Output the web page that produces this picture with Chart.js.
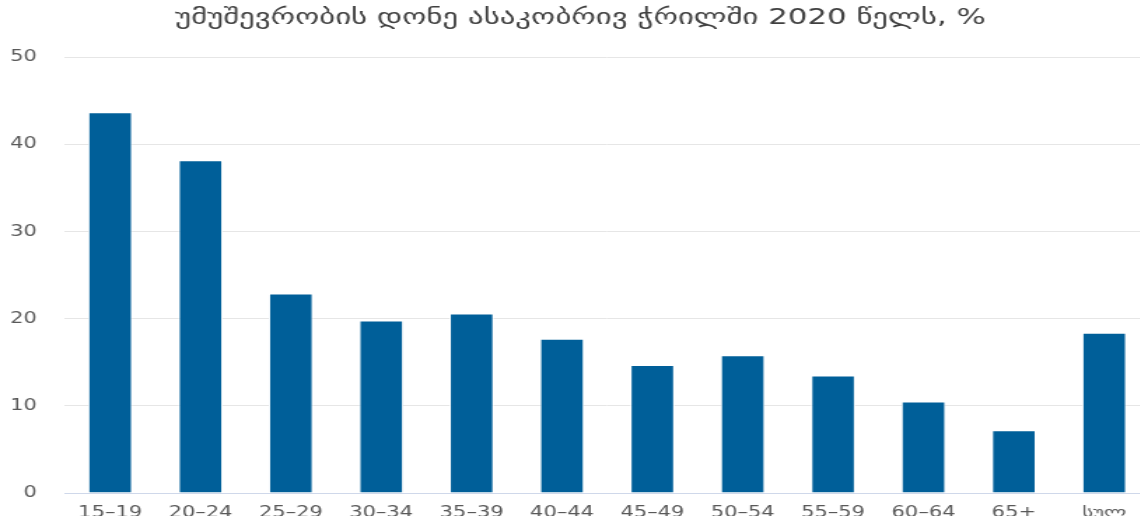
<!DOCTYPE html>
<html>
<head>
<meta charset="utf-8">
<script src="https://cdn.jsdelivr.net/npm/chart.js@4/dist/chart.umd.min.js"></script>
<style>
    html, body { margin: 0; padding: 0; background: #fff; overflow: hidden; }
    /* the chart is laid out narrow and stretched wide, text included */
    #ageChart { display: block; transform: scaleX(1.4); transform-origin: 0 0; }
</style>
</head>
<body>
<canvas id="ageChart" width="821" height="522"></canvas>
<script>
const TITLE = 'უმუშევრობის დონე ასაკობრივ ჭრილში 2020 წელს, %';
const AGE_GROUPS = ['15–19', '20–24', '25–29', '30–34', '35–39', '40–44', '45–49', '50–54', '55–59', '60–64', '65+', 'სულ'];
const RATES = [43.7, 38.2, 22.9, 19.8, 20.6, 17.7, 14.7, 15.8, 13.5, 10.5, 7.2, 18.4];
const Y_MAX = 50;
const Y_STEP = 10;

const BAR_COLOR = '#005f99';
const TEXT_COLOR = '#595959';
const FONT = 'DejaVu Sans, Verdana, sans-serif';

// nudge the title a little to the right
const titleShift = {
    id: 'titleShift',
    beforeDraw(chart) {
        const block = chart.titleBlock;
        if (block && !block._shifted) {
            const draw = block.draw.bind(block);
            block.draw = () => {
                chart.ctx.save();
                chart.ctx.translate(4, 0);
                draw();
                chart.ctx.restore();
            };
            block._shifted = true;
        }
    }
};

const ctx = document.getElementById('ageChart').getContext('2d');
new Chart(ctx, {
    type: 'bar',
    data: {
        labels: AGE_GROUPS,
        datasets: [{
            data: RATES,
            backgroundColor: BAR_COLOR,
            borderColor: '#ffffff',
            borderWidth: 1,
            categoryPercentage: 1,
            barPercentage: 0.49
        }]
    },
    options: {
        responsive: false,
        animation: false,
        plugins: {
            legend: { display: false },
            tooltip: { enabled: false },
            title: {
                display: true,
                text: TITLE,
                color: '#404040',
                font: { family: FONT, size: 22, weight: 'normal' },
                padding: { top: 5, bottom: 26 }
            }
        },
        scales: {
            x: {
                border: { color: '#cfd8ea', width: 1 },
                grid: { display: false, drawTicks: false },
                ticks: { color: TEXT_COLOR, font: { family: FONT, size: 15 }, padding: 11, maxRotation: 0, autoSkip: false },
                afterFit: s => { s.height = 23; }
            },
            y: {
                min: 0,
                max: Y_MAX,
                border: { display: false },
                grid: { color: '#e6e6e6', drawTicks: false },
                ticks: { stepSize: Y_STEP, color: TEXT_COLOR, font: { family: FONT, size: 15 }, padding: 20 },
                afterFit: s => { s.width = 46.4; }
            }
        }
    },
    plugins: [titleShift]
});
</script>
</body>
</html>
